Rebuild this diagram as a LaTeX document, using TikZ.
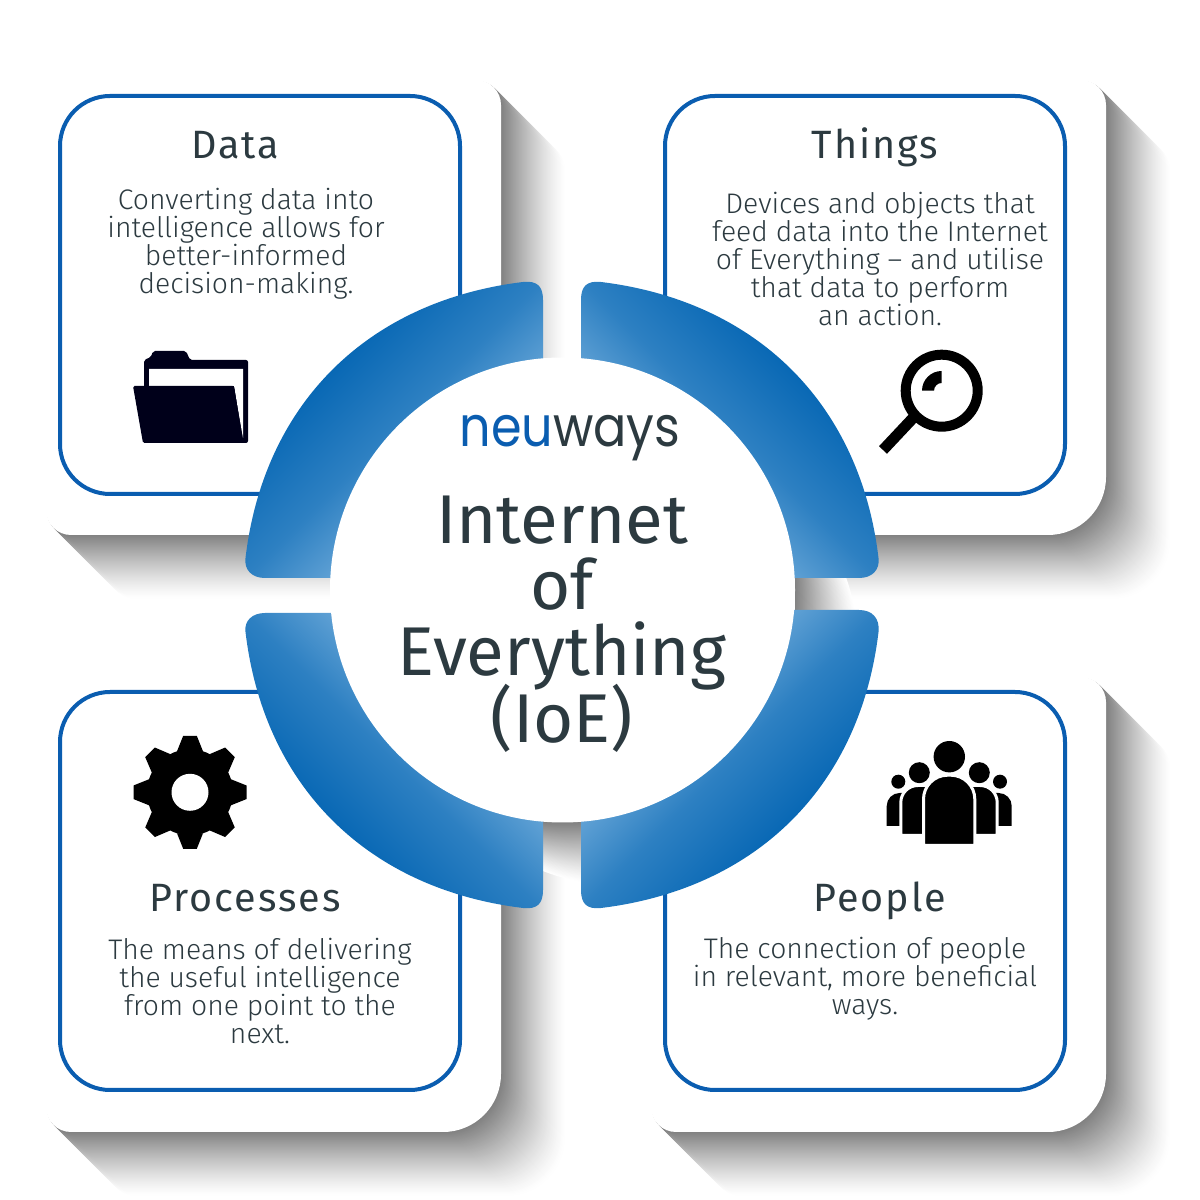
\documentclass[tikz,border=0pt]{standalone}
\usepackage{fontspec}
\setmainfont{Fira Sans Light}
\newfontfamily\headfont{Fira Sans}
\newfontfamily\logofont{Poppins}
\setlength{\lineskiplimit}{-100pt}
\definecolor{boxblue}{HTML}{0A5DB0}
\definecolor{ringdark}{HTML}{0767B4}
\definecolor{ringlight}{HTML}{6CA9D9}
\colorlet{ringmid}{ringlight!38!ringdark}
\definecolor{inktext}{HTML}{2C3A40}
\definecolor{foldernavy}{HTML}{00001A}
\pgfdeclarehorizontalshading{ringshade}{100bp}{color(0bp)=(ringdark); color(35bp)=(ringdark); color(50bp)=(ringmid); color(63bp)=(ringlight); color(100bp)=(ringlight)}
\tikzset{
  cardbox/.style={draw=boxblue, line width=4pt, fill=white, rounded corners=50pt},
  cardtitle/.style={anchor=base, text=inktext, font=\headfont\fontsize{39.5}{39.5}\selectfont\addfontfeatures{LetterSpace=5}},
  cardtext/.style={text=inktext, align=center, font=\fontsize{28.3}{28}\selectfont},
  bigtitle/.style={text=inktext, align=center, font=\headfont\fontsize{69}{66.3}\selectfont},
}
\newcommand{\cardoutline}{(46,1120) -- (476,1120) arc[start angle=90,end angle=0,radius=25] -- (501,723) arc[start angle=0,end angle=-90,radius=58] -- (71,665) arc[start angle=270,end angle=180,radius=25] -- cycle}
\newcommand{\bodyicon}[5]{\fill[black,#5] (#1,#4) [rounded corners=#3pt] -- (#1,#2) -- (#1+48,#2) [sharp corners] -- (#1+48,#4) -- cycle;}
\begin{document}
\begin{tikzpicture}[x=1pt,y=1pt]
\useasboundingbox (0,0) rectangle (1200,1200);

% card shadows
\foreach \dx/\dy in {0/0,605/0,0/-597,605/-597}{
  \foreach \i in {64,63,...,1}{
    \pgfmathsetmacro{\shadeval}{50*(1-\i/65)^1.3}
    \fill[black!\shadeval!white, xshift=\dx+\i, yshift=\dy-\i] \cardoutline;
  }
}

% white cards
\foreach \dx/\dy in {0/0,605/0,0/-597,605/-597}{
  \fill[white, xshift=\dx, yshift=\dy] \cardoutline;
}

% blue boxes
\draw[cardbox] (60,706) rectangle (460,1104);
\draw[cardbox] (665,706) rectangle (1065,1104);
\draw[cardbox] (60,110) rectangle (460,508);
\draw[cardbox] (665,110) rectangle (1065,508);

% shadow of the middle circle, seen in the gaps
\begin{scope}
  \clip (795,590) rectangle (880,622) (543,310) rectangle (581,380);
  \foreach \i in {64,63,...,1}{
    \pgfmathsetmacro{\shadeval}{50*(1-\i/65)^1.3}
    \fill[black!\shadeval!white] (562.5+\i,610-\i) circle (232.5);
  }
\end{scope}

% ring pieces
\foreach \sx/\sy/\ang/\gy in {1/1/-45/17, -1/1/-135/17, 1/-1/45/18, -1/-1/135/15}{
  \begin{scope}[shift={(562,605)}, xscale=\sx, yscale=\sy]
    \shade[shading=ringshade, shading angle=\ang] (-19,150) -- (-19,295)
      .. controls (-19,309) and (-25,314.5) .. (-39,313)
      .. controls (-194,294) and (-298,192) .. (-316.5,37)
      .. controls (-318,\gy+8) and (-310,\gy) .. (-297,\gy)
      -- (-150,\gy) -- cycle;
  \end{scope}
}

% middle circle
\fill[white] (562.5,610) circle (232.5);

% logo and title
\node[anchor=base, inner sep=0pt, font=\logofont\fontsize{56}{56}\selectfont, transform shape, xscale=0.88] (logo) at (570,753) {\textcolor{boxblue}{neu}\textcolor{inktext}{ways}};
\node[bigtitle] (maintitle) at (562,576) {Internet\\of\\Everything\\(IoE)};

% card texts
\node[cardtitle] (datatitle) at (235,1041) {Data};
\node[cardtext] (datatext) at (246,956) {Converting data into\\intelligence allows for\\better-informed\\decision-making.};
\node[cardtitle] (thingstitle) at (875,1041) {Things};
\node[cardtext] (thingstext) at (880,941) {Devices and objects that\\feed data into the Internet\\of Everything – and utilise\\that data to perform\\an action.};
\node[cardtitle] (processtitle) at (245,288) {Processes};
\node[cardtext] (processtext) at (260,209) {The means of delivering\\the useful intelligence\\from one point to the\\next.};
\node[cardtitle] (peopletitle) at (880,288) {People};
\node[cardtext] (peopletext) at (865,221) {The connection of people\\in relevant, more beneficial\\ways.};

% folder
\fill[foldernavy, rounded corners=2pt] (144,757) -- (144,840) -- (151,843) -- (153,849) -- (186,849) -- (190,840) -- (248,840) -- (248,757) -- cycle;
\fill[white] (149,831) -- (243,831) -- (243,762) -- (234,814) -- (149,814) -- cycle;
\fill[foldernavy, rounded corners=1.5pt] (133,814) -- (234,814) -- (243,757) -- (143,757) -- cycle;

% magnifier
\draw[black, line width=10pt] (941.7,809.3) circle (36);
\draw[black, line width=11pt] (914,783) -- (883,750);
\fill[black] (941.7,829) arc[start angle=90,end angle=180,radius=19.7] -- (934,809.3) arc[start angle=180,end angle=90,radius=7.7] -- cycle;

% gear
\fill[black] (190,407.7) circle (43);
\foreach \a in {0,45,...,315}{
  \fill[black, shift={(190,407.7)}, rotate=\a] (-13,41) -- (-6.8,56.5) -- (6.8,56.5) -- (13,41) -- cycle;
}
\fill[white] (190,407.7) circle (18.5);

% people
\fill[black] (949.3,443.3) circle (15.7);
\fill[black] (919.3,427.3) circle (10.5);
\fill[black] (979.3,427.3) circle (10.5);
\fill[black] (898.3,418.3) circle (7);
\fill[black] (1000,418.3) circle (7);
\bodyicon{886.7}{407}{13}{374}{}
\bodyicon{963.7}{407}{13}{374}{}
\bodyicon{900.8}{414.5}{17}{364.5}{draw=white, line width=3pt}
\bodyicon{949.2}{414.5}{17}{364.5}{draw=white, line width=3pt}
\fill[black, draw=white, line width=3pt] (923.5,354.5) [rounded corners=24pt] -- (923.5,424.8) -- (974.8,424.8) [sharp corners] -- (974.8,354.5) -- cycle;
\end{tikzpicture}
\end{document}
